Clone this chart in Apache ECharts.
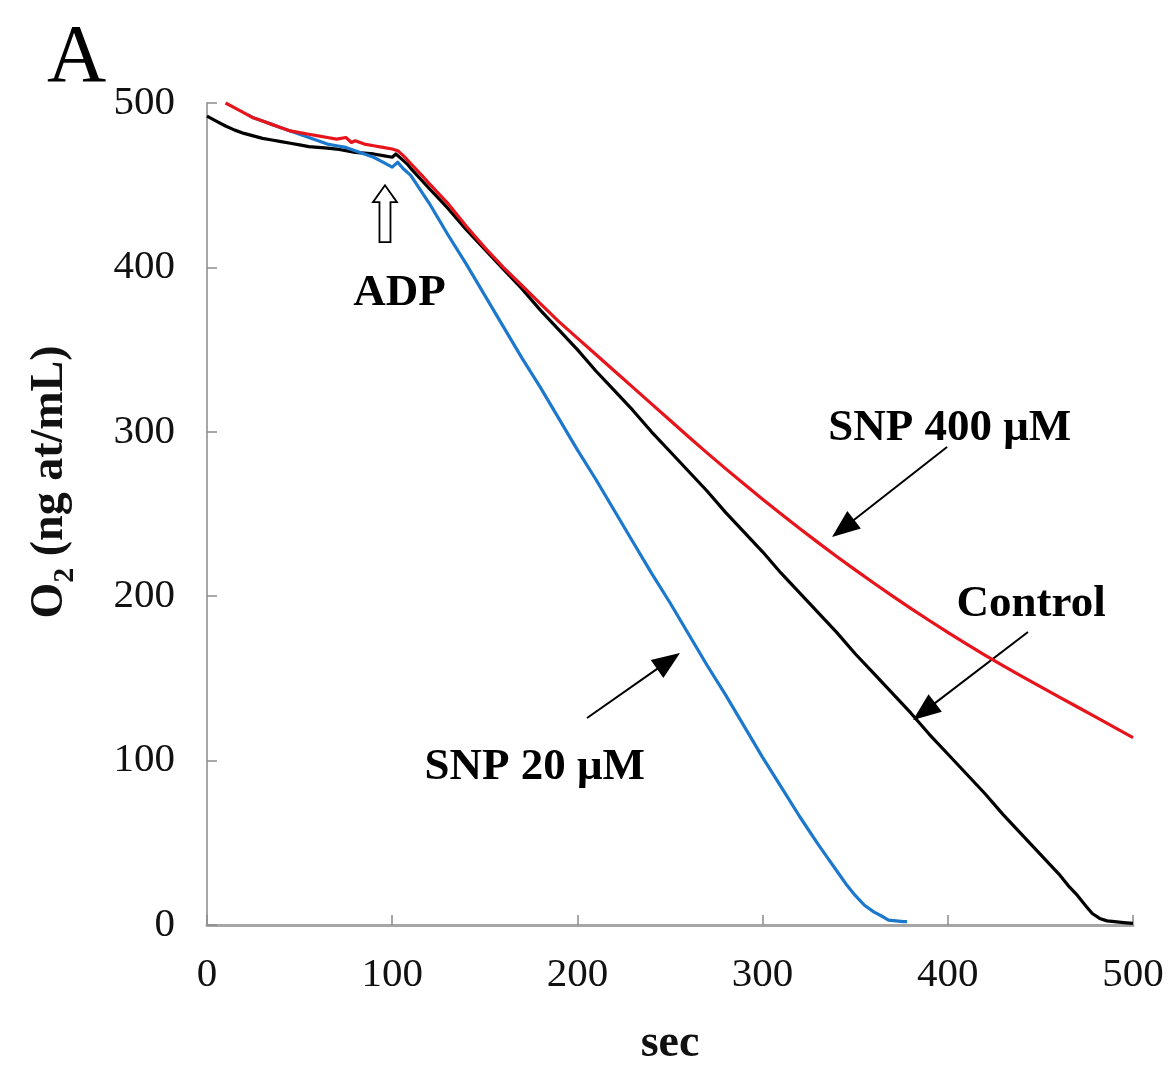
<!DOCTYPE html>
<html>
<head>
<meta charset="utf-8">
<script src="https://cdn.jsdelivr.net/npm/echarts@6/dist/echarts.min.js"></script>
<style>html,body{margin:0;padding:0;background:#fff}#c{width:1173px;height:1069px}</style>
</head>
<body>
<div id="c"></div>
<script>
// ---------- data ----------
const xTicks = [0, 100, 200, 300, 400, 500];
const yTicks = [0, 100, 200, 300, 400, 500];

const controlT = [0,5,10,15,20,25,30,35,40,45,50,55,60,65,70,75,80,85,90,95,100,102,105,108,111,120,130,140,150,160,170,180,190,200,210,220,230,240,250,260,270,280,290,300,310,320,330,340,350,360,370,380,390,400,410,420,430,440,450,460,465,470,475,478,482,486,490,495,500];
const controlO2 = [492,489,486,483.5,481.5,480,478.5,477.5,476.5,475.5,474.5,473.5,473,472.5,472,471,470,469.5,469,468,467,469,466,463,459,448,436,423,411,399,387,374,362,350,337,325,313,300,288,276,264,251,239,227,214,202,190,178,165,153,141,129,116,104,92,80,67,55,43,31,24,18,11,7,4,2.5,2,1.5,1];

const snp20T = [22,25,30,35,40,45,50,55,60,65,70,75,80,85,90,95,100,103,106,110,120,130,140,150,160,170,180,190,200,210,220,230,240,250,260,270,280,290,300,310,320,330,335,340,345,350,355,360,365,368,372,376,378];
const snp20O2 = [493,491,489,487,485,483,481,479,477,475,474,473,471,469,467,464,461,464,460,456,439,420,402,383,364,345,327,308,289,271,252,233,214,196,177,158,140,121,102,84,66,49,41,33,25,18,12,8,5,3,2.5,2,2];

const snp400T = [10,15,20,25,30,35,40,45,50,55,60,65,70,75,78,80,85,90,95,100,103,106,111,116,120,130,140,150,160,170,180,190,200,210,220,230,240,250,260,270,280,290,300,310,320,330,340,350,360,370,380,390,400,410,420,430,440,450,460,470,480,490,500];
const snp400O2 = [500,497,494,491,489,487,485,483,482,481,480,479,478,479,476,477,475,474,473,472,471,468,462,456,451,439,425,412,400,389,378,367,357,347,337,327,317,307,297,287.2,277.6,268.2,259,250,241.2,232.6,224.2,216,208,200.2,192.6,185.2,178,171,164.2,157.6,151.2,145,138.8,132.6,126.4,120.2,114];

// annotation anchors in data units [sec, O2]
const labels = [
  { text: 'SNP 400 μM', at: [401, 302] },
  { text: 'Control',    at: [445, 195] },
  { text: 'SNP 20 μM',  at: [177, 96] },
  { text: 'ADP',        at: [104, 384] }
];
const arrows = [
  { from: [399.6, 290.8], to: [337.5, 236.0] },
  { from: [443.3, 178.2], to: [381.2, 124.7] },
  { from: [205.2, 125.9], to: [255.4, 165.5] }
];
const adpArrowAt = [96.1, 450];   // tip of hollow ADP arrow

// ---------- chart ----------
const SERIF = '"Liberation Serif","Times New Roman",serif';
const pairs = (t, v) => t.map((x, i) => [x, v[i]]);
const chart = echarts.init(document.getElementById('c'), null, { renderer: 'canvas' });

const axisCommon = {
  type: 'value', min: 0, max: 500, interval: 100,
  splitLine: { show: false },
  axisLine: { show: true, lineStyle: { color: '#a6a6a6', width: 2 } },
  axisTick: { show: true, inside: true, length: 10, lineStyle: { color: '#8c8c8c', width: 1.5 } },
  axisLabel: { color: '#111', fontFamily: SERIF, fontSize: 41 }
};

const lineCommon = { type: 'line', showSymbol: false, smooth: false };

chart.setOption({
  animation: false,
  backgroundColor: '#fff',
  grid: { left: 207, right: 40, top: 103, bottom: 144, containLabel: false, outerBoundsMode: 'none' },
  xAxis: Object.assign({}, axisCommon, {
    axisLine: { show: true, lineStyle: { color: '#a6a6a6', width: 3 } },
    axisLabel: Object.assign({}, axisCommon.axisLabel, { margin: 30 }),
    name: 'sec', nameLocation: 'middle', nameGap: 96,
    nameTextStyle: { fontFamily: SERIF, fontSize: 46, fontWeight: 'bold', color: '#111' }
  }),
  yAxis: Object.assign({}, axisCommon, {
    axisLabel: Object.assign({}, axisCommon.axisLabel, { margin: 32 })
  }),
  series: [
    Object.assign({ name: 'Control', data: pairs(controlT, controlO2),
      lineStyle: { color: '#000', width: 3.2, join: 'round' }, z: 2 }, lineCommon),
    Object.assign({ name: 'SNP 20 μM', data: pairs(snp20T, snp20O2),
      lineStyle: { color: '#1b78cc', width: 3.2, join: 'round' }, z: 3 }, lineCommon),
    Object.assign({ name: 'SNP 400 μM', data: pairs(snp400T, snp400O2),
      lineStyle: { color: '#e8141c', width: 3.2, join: 'round' }, z: 4 }, lineCommon)
  ]
});

// ---------- annotations ----------
const P = (d) => chart.convertToPixel({ gridIndex: 0 }, d);
const els = [];

// panel letter
els.push({ type: 'text', x: 47, y: 59, style: { text: 'A', font: '82px ' + SERIF, fill: '#000',
  align: 'left', verticalAlign: 'middle', textAlign: 'left', textVerticalAlign: 'middle' } });

// y-axis title (rotated, with subscript)
els.push({ type: 'text', x: 50, y: 482, rotation: Math.PI / 2,
  style: { text: '{b|O}{s|2}{b| (ng at/mL)}', align: 'center', verticalAlign: 'middle',
    textAlign: 'center', textVerticalAlign: 'middle',
    rich: {
      b: { font: 'bold 46px ' + SERIF, fill: '#111', lineHeight: 60, verticalAlign: 'middle' },
      s: { font: 'bold 30px ' + SERIF, fill: '#111', lineHeight: 60, verticalAlign: 'bottom' }
    } } });

labels.forEach(l => {
  const p = P(l.at);
  els.push({ type: 'text', x: p[0], y: p[1], style: { text: l.text, font: 'bold 45px ' + SERIF,
    fill: '#000', align: 'center', verticalAlign: 'middle', textAlign: 'center', textVerticalAlign: 'middle' } });
});

arrows.forEach(a => {
  const s = P(a.from), t = P(a.to);
  const dx = t[0] - s[0], dy = t[1] - s[1], L = Math.hypot(dx, dy);
  const ux = dx / L, uy = dy / L, nx = -uy, ny = ux;
  const hl = 28, hw = 11;
  const bx = t[0] - ux * hl, by = t[1] - uy * hl;
  els.push({ type: 'line', shape: { x1: s[0], y1: s[1], x2: bx + ux * 4, y2: by + uy * 4 },
    style: { stroke: '#000', lineWidth: 2 } });
  els.push({ type: 'polygon', shape: { points: [[t[0], t[1]], [bx + nx * hw, by + ny * hw], [bx - nx * hw, by - ny * hw]] },
    style: { fill: '#000' } });
});

// hollow ADP arrow
(function () {
  const p = P(adpArrowAt);
  const x = p[0], y = p[1];
  els.push({ type: 'polygon', shape: { points: [
    [x, y], [x + 12, y + 17], [x + 5.5, y + 17], [x + 5.5, y + 57],
    [x - 5.5, y + 57], [x - 5.5, y + 17], [x - 12, y + 17]] },
    style: { fill: '#fff', stroke: '#000', lineWidth: 1.8 } });
})();

chart.setOption({ graphic: { elements: els } });
</script>
</body>
</html>
